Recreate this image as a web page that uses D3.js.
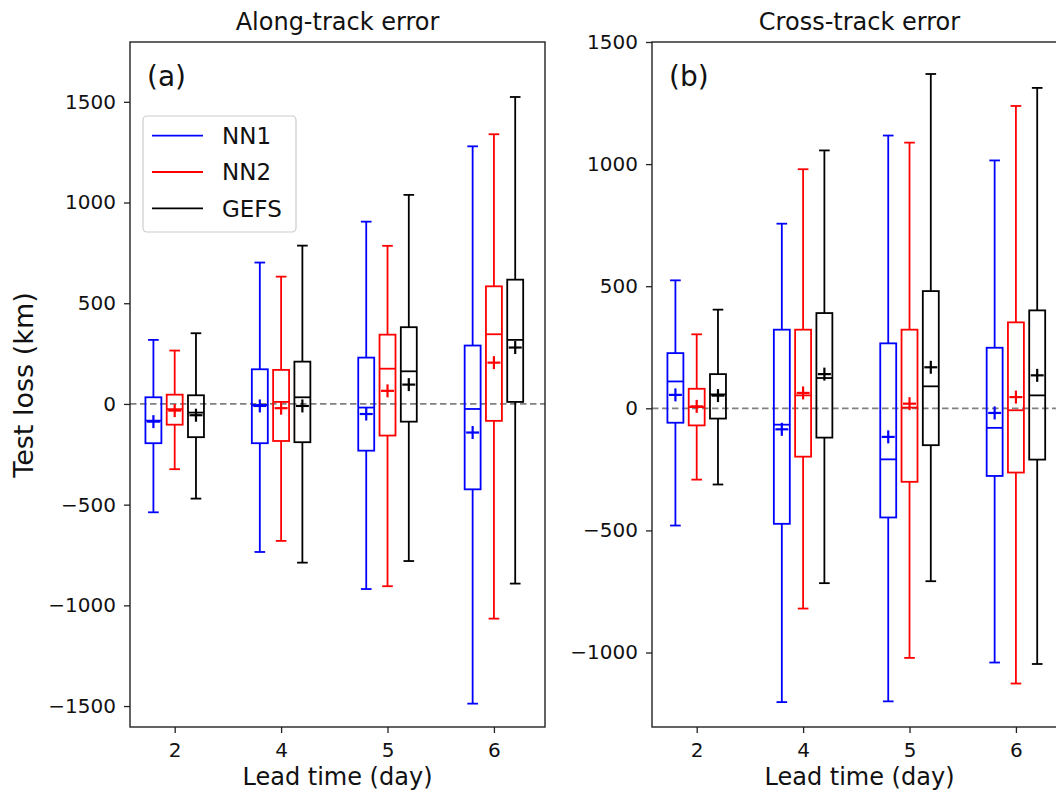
<!DOCTYPE html>
<html>
<head>
<meta charset="utf-8">
<script src="https://cdn.jsdelivr.net/npm/d3@7"></script>
<style>
  html, body { margin: 0; padding: 0; background: #fff; }
  svg { display: block; font-family: "DejaVu Sans", sans-serif; }
</style>
</head>
<body>
<svg id="chart" width="1056" height="790"></svg>
<script>
// ---------------- data ----------------
const leads = ["2", "4", "5", "6"];
const seriesNames = ["NN1", "NN2", "GEFS"];
const seriesColors = ["#0000ff", "#ff0000", "#000000"];

// each entry: [whiskerLow, q1, median, q3, whiskerHigh]
const alongNN1 = [[-538, -195, -83, 33, 318], [-735, -195, -5, 172, 702], [-919, -232, -18, 230, 905], [-1488, -424, -25, 290, 1279]];
const alongNN2 = [[-324, -103, -26, 46, 265], [-680, -184, 10, 169, 632], [-905, -157, 175, 344, 785], [-1066, -84, 346, 584, 1339]];
const alongGEFS = [[-470, -165, -43, 43, 351], [-788, -190, 33, 210, 786], [-780, -88, 162, 381, 1038], [-892, 10, 318, 617, 1524]];
const alongMeanNN1 = [-88, -10, -50, -142];
const alongMeanNN2 = [-33, -21, 65, 205];
const alongMeanGEFS = [-56, -10, 96, 280];

const crossNN1 = [[-480, -59, 110, 226, 524], [-1203, -473, -67, 322, 756], [-1200, -447, -209, 266, 1117], [-1041, -277, -80, 248, 1015]];
const crossNN2 = [[-292, -70, 5, 80, 303], [-820, -198, 53, 322, 979], [-1022, -301, 3, 322, 1088], [-1127, -263, -8, 352, 1238]];
const crossGEFS = [[-312, -42, 57, 140, 404], [-716, -120, 124, 390, 1056], [-708, -151, 90, 480, 1369], [-1047, -210, 53, 401, 1312]];
const crossMeanNN1 = [55, -86, -117, -19];
const crossMeanNN2 = [8, 63, 19, 46];
const crossMeanGEFS = [52, 140, 168, 135];

const alongTicks = [-1500, -1000, -500, 0, 500, 1000, 1500];
const crossTicks = [-1000, -500, 0, 500, 1000, 1500];

// ---------------- layout ----------------
const svg = d3.select("#chart");
const plotTop = 42, plotBottom = 727;
const offsets = [-0.2, 0, 0.2];
const boxW = 0.15, capW = 0.1;
const fmt = d3.format("d");

const panels = [
  { left: 130, right: 545, ydom: [-1604, 1797], ticks: alongTicks,
    stats: [alongNN1, alongNN2, alongGEFS], means: [alongMeanNN1, alongMeanNN2, alongMeanGEFS],
    title: "Along-track error", tag: "(a)", legend: true },
  { left: 652, right: 1067, ydom: [-1305, 1500], ticks: crossTicks,
    stats: [crossNN1, crossNN2, crossGEFS], means: [crossMeanNN1, crossMeanNN2, crossMeanGEFS],
    title: "Cross-track error", tag: "(b)", legend: false }
];

panels.forEach(p => {
  const x = d3.scaleLinear().domain([0.58, 4.48]).range([p.left, p.right]);
  const y = d3.scaleLinear().domain(p.ydom).range([plotBottom, plotTop]);
  const g = svg.append("g");

  // zero dashed line
  g.append("line")
    .attr("x1", p.left).attr("x2", p.right)
    .attr("y1", y(0)).attr("y2", y(0))
    .attr("stroke", "#808080").attr("stroke-width", 1.8)
    .attr("stroke-dasharray", "6.5,3.5");

  // boxes
  p.stats.forEach((ser, si) => {
    const col = seriesColors[si];
    ser.forEach((s, li) => {
      const cx = x(li + 1 + offsets[si]);
      const hw = (x(boxW) - x(0)) / 2;
      const cw = (x(capW) - x(0)) / 2;
      const [wl, q1, med, q3, wh] = s;
      const bg = g.append("g").attr("stroke", col).attr("stroke-width", 1.8).attr("fill", "none");
      bg.append("line").attr("x1", cx).attr("x2", cx).attr("y1", y(q3)).attr("y2", y(wh));
      bg.append("line").attr("x1", cx).attr("x2", cx).attr("y1", y(q1)).attr("y2", y(wl));
      bg.append("line").attr("x1", cx - cw).attr("x2", cx + cw).attr("y1", y(wh)).attr("y2", y(wh));
      bg.append("line").attr("x1", cx - cw).attr("x2", cx + cw).attr("y1", y(wl)).attr("y2", y(wl));
      bg.append("rect").attr("x", cx - hw).attr("y", y(q3))
        .attr("width", 2 * hw).attr("height", y(q1) - y(q3));
      bg.append("line").attr("x1", cx - hw).attr("x2", cx + hw).attr("y1", y(med)).attr("y2", y(med));
      const m = p.means[si][li];
      const ms = 6.5;
      bg.append("line").attr("x1", cx - ms).attr("x2", cx + ms).attr("y1", y(m)).attr("y2", y(m)).attr("stroke-width", 2.2);
      bg.append("line").attr("x1", cx).attr("x2", cx).attr("y1", y(m) - ms).attr("y2", y(m) + ms).attr("stroke-width", 2.2);
    });
  });

  // frame
  g.append("rect")
    .attr("x", p.left).attr("y", plotTop)
    .attr("width", p.right - p.left).attr("height", plotBottom - plotTop)
    .attr("fill", "none").attr("stroke", "#222").attr("stroke-width", 1.4);

  // y axis
  const ya = g.append("g").attr("transform", `translate(${p.left},0)`)
    .call(d3.axisLeft(y).tickValues(p.ticks).tickFormat(fmt).tickSize(6).tickPadding(8));
  ya.select(".domain").remove();
  ya.selectAll("text").attr("font-size", 20).attr("font-family", "DejaVu Sans").attr("fill", "#111");
  ya.selectAll("line").attr("stroke", "#222").attr("stroke-width", 1.3);

  // x axis
  const xa = g.append("g").attr("transform", `translate(0,${plotBottom})`)
    .call(d3.axisBottom(x).tickValues([1, 2, 3, 4]).tickFormat((d, i) => leads[i]).tickSize(6).tickPadding(10));
  xa.select(".domain").remove();
  xa.selectAll("text").attr("font-size", 20).attr("font-family", "DejaVu Sans").attr("fill", "#111");
  xa.selectAll("line").attr("stroke", "#222").attr("stroke-width", 1.3);

  // x label
  g.append("text").attr("x", (p.left + p.right) / 2).attr("y", 785)
    .attr("text-anchor", "middle").attr("font-size", 24).attr("fill", "#111")
    .text("Lead time (day)");

  // title
  g.append("text").attr("x", (p.left + p.right) / 2).attr("y", 30)
    .attr("text-anchor", "middle").attr("font-size", 24).attr("fill", "#111")
    .text(p.title);

  // tag
  g.append("text").attr("x", p.left + 17).attr("y", 86)
    .attr("font-size", 28).attr("fill", "#111").text(p.tag);

  if (p.legend) {
    const lg = g.append("g");
    lg.append("rect").attr("x", 143).attr("y", 116).attr("width", 153).attr("height", 116)
      .attr("rx", 4).attr("fill", "#fff").attr("fill-opacity", 0.8)
      .attr("stroke", "#cccccc").attr("stroke-width", 1.2);
    const ly = [135.7, 172, 208.3];
    seriesNames.forEach((n, i) => {
      lg.append("line").attr("x1", 152).attr("x2", 203).attr("y1", ly[i]).attr("y2", ly[i])
        .attr("stroke", seriesColors[i]).attr("stroke-width", 1.8);
      lg.append("text").attr("x", 222).attr("y", ly[i]).attr("dy", "0.36em")
        .attr("font-size", 23).attr("fill", "#111").text(n);
    });
  }
});

// y label
svg.append("text")
  .attr("transform", "translate(33,385) rotate(-90)")
  .attr("text-anchor", "middle").attr("font-size", 27).attr("fill", "#111")
  .text("Test loss (km)");
</script>
</body>
</html>
